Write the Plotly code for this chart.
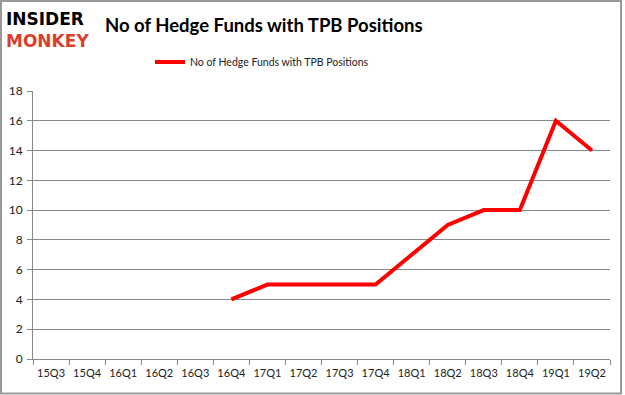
import plotly.graph_objects as go

quarters = ["15Q3", "15Q4", "16Q1", "16Q2", "16Q3", "16Q4", "17Q1", "17Q2",
            "17Q3", "17Q4", "18Q1", "18Q2", "18Q3", "18Q4", "19Q1", "19Q2"]
funds = [None, None, None, None, None, 4, 5, 5, 5, 5, 7, 9, 10, 10, 16, 14]
series_name = "No of Hedge Funds with TPB Positions"
y_ticks = [0, 2, 4, 6, 8, 10, 12, 14, 16, 18]

W, H = 625, 395
L, R, T, B = 33, 15, 91, 36
PW, PH = W - L - R, H - T - B


def px(x):
    return (x - L) / PW


def py(y):
    return (H - B - y) / PH


fig = go.Figure()
fig.add_trace(go.Scatter(x=quarters, y=funds, mode="lines", name=series_name,
                         line=dict(color="#ff0000", width=4), connectgaps=False))

fig.update_layout(
    width=W, height=H,
    margin=dict(l=L, r=R, t=T, b=B, autoexpand=False),
    paper_bgcolor="white", plot_bgcolor="white",
    font=dict(family="Lato, DejaVu Sans, sans-serif", size=11, color="#222"),
    showlegend=True,
    legend=dict(orientation="h", x=px(262), xref="paper", xanchor="center",
                y=1 - 62 / H, yref="container", yanchor="middle",
                font=dict(size=10.5, color="#222")),
    xaxis=dict(type="category", categoryorder="array", categoryarray=quarters,
               showline=True, linecolor="#888", linewidth=1, tickangle=0,
               ticks="outside", tickson="boundaries", ticklen=5, tickcolor="#888",
               ticklabelstandoff=4,
               showgrid=False, range=[-0.5, 15.5], automargin=False),
    yaxis=dict(range=[0, 18], tickvals=y_ticks, showline=True, linecolor="#888", linewidth=1,
               ticks="outside", ticklen=5, tickcolor="#888", automargin=False,
               tickfont=dict(size=12), ticklabelstandoff=2,
               showgrid=True, gridcolor="#888", gridwidth=1, zeroline=False),
    shapes=[dict(type="rect", xref="paper", yref="paper", x0=px(1), x1=px(621),
                 y0=py(H - 1.5), y1=py(1), line=dict(color="#999", width=2))],
    annotations=[
        dict(text="<b>No of Hedge Funds with TPB Positions</b>", xref="paper", yref="paper",
             x=px(103), y=py(25), xanchor="left", yanchor="middle",
             showarrow=False, font=dict(size=18.5, color="black")),
        dict(text="<b>INSIDER</b><br><b><span style='color:#d9402b'>MONKEY</span></b>",
             xref="paper", yref="paper", align="left",
             x=px(4), y=py(30), xanchor="left", yanchor="middle",
             showarrow=False,
             font=dict(family="DejaVu Sans", size=17, color="black")),
    ],
)

fig.write_html("out.html", config={"displayModeBar": False},
               post_script="document.body.style.margin='0';document.body.style.overflow='hidden';")
